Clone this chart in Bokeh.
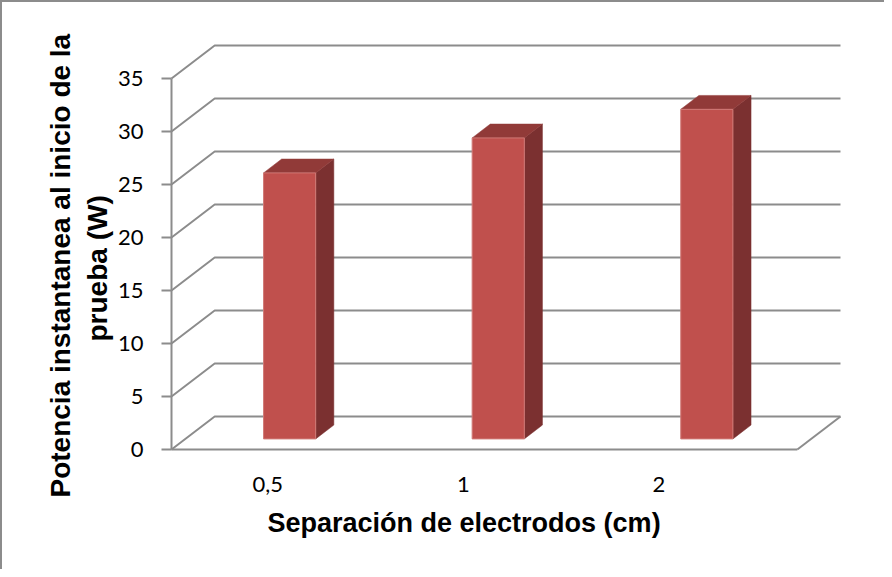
from bokeh.plotting import figure
from bokeh.models import Range1d, FixedTicker, Title
from bokeh.embed import file_html
from bokeh.resources import INLINE

# ---- data ----
categories = ["0,5", "1", "2"]
values = [25.1, 28.4, 31.1]
y_ticks = [0, 5, 10, 15, 20, 25, 30, 35]

# ---- 3D projection parameters (in data units) ----
DX = 0.207      # depth offset along x (category units)
DY = 3.12       # depth offset along y (value units)
F0, F1 = 0.32, 0.74   # bar depth span (fraction of floor depth)
BW = 0.25       # bar width (category units)
NCAT = len(categories)
YMAX = y_ticks[-1]

W, H = 884, 569
p = figure(width=W, height=H, output_backend="svg", toolbar_location=None,
           x_range=Range1d(-0.0144, NCAT + DX + 0.0144),
           y_range=Range1d(-0.283, YMAX + DY + 0.283),
           min_border_left=168, min_border_right=41,
           min_border_top=42, min_border_bottom=117)
p.styles = {"box-shadow": "inset 2px 2px 0 0 #8c8c8c"}
p.grid.visible = False
p.outline_line_color = None
p.background_fill_color = "white"
p.border_fill_alpha = 0

# gridlines: side wall diagonal + back wall horizontal
gx = [[0, DX, NCAT + DX] for v in y_ticks]
gy = [[v, v + DY, v + DY] for v in y_ticks]
p.multi_line(gx, gy, line_color="#8c8c8c", line_width=2)
# front axis line and floor edges
p.multi_line([[0, 0], [0, NCAT], [NCAT, NCAT + DX]],
             [[0, YMAX], [0, 0], [0, DY]],
             line_color="#8c8c8c", line_width=2)

# bars
side_x, side_y, top_x, top_y, fr_x, fr_y = [], [], [], [], [], []
for i, v in enumerate(values):
    x0f = i + 0.5 - BW / 2 + F0 * DX
    x1f = x0f + BW
    ybf = F0 * DY
    ytf = ybf + v
    ddx = (F1 - F0) * DX
    ddy = (F1 - F0) * DY
    fr_x.append([x0f, x1f, x1f, x0f])
    fr_y.append([ybf, ybf, ytf, ytf])
    side_x.append([x1f, x1f + ddx, x1f + ddx, x1f])
    side_y.append([ybf, ybf + ddy, ytf + ddy, ytf])
    top_x.append([x0f, x1f, x1f + ddx, x0f + ddx])
    top_y.append([ytf, ytf, ytf + ddy, ytf + ddy])

p.patches(side_x, side_y, fill_color="#7b3030", line_color="#7b3030", line_width=0.5)
p.patches(top_x, top_y, fill_color="#913a38", line_color="#913a38", line_width=0.5)
p.patches(fr_x, fr_y, fill_color="#c0504d", line_color="#d07a77", line_width=1)

# y axis
ya = p.yaxis[0]
ya.ticker = FixedTicker(ticks=y_ticks)
ya.axis_line_color = None
ya.major_tick_line_color = "#8c8c8c"
ya.major_tick_line_width = 2
ya.major_tick_out = 7
ya.major_tick_in = 3
ya.minor_tick_line_color = None
ya.major_label_standoff = 18
ya.major_label_text_font = "Lato"
ya.major_label_text_font_size = "22px"
ya.major_label_text_color = "black"

# x axis (category labels)
label_pos = [round(0.4615 + 0.9375 * i, 4) for i in range(NCAT)]
xa = p.xaxis[0]
xa.ticker = FixedTicker(ticks=label_pos)
xa.major_label_overrides = {lp: c for lp, c in zip(label_pos, categories)}
xa.axis_line_color = None
xa.major_tick_line_color = None
xa.minor_tick_line_color = None
xa.major_label_standoff = 18
xa.major_label_text_font = "Lato"
xa.major_label_text_font_size = "22px"
xa.major_label_text_color = "black"

# titles
xfont = dict(text_font="Liberation Sans", text_font_style="bold",
             text_font_size="27px", text_color="black")
yfont = dict(text_font="Liberation Sans", text_font_style="bold",
             text_font_size="28px", text_color="black")
p.add_layout(Title(text="Separación de electrodos (cm)", align="left", offset=99,
                   standoff=22, **xfont), "below")
p.add_layout(Title(text="prueba (W)", align="left", offset=111,
                   standoff=4, **yfont), "left")
p.add_layout(Title(text="Potencia instantanea al inicio de la", align="left", offset=-45,
                   standoff=4, **yfont), "left")

open("out.html", "w").write(file_html(p, INLINE))
